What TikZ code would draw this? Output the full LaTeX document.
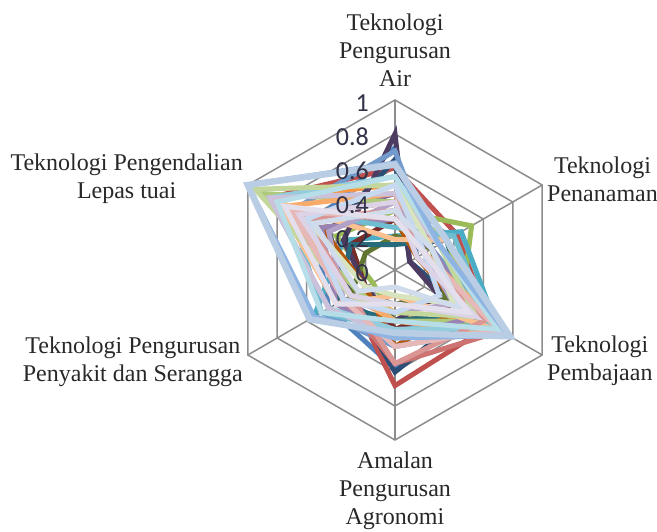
\documentclass[tikz,border=0pt]{standalone}
\usepackage{fontspec}
\setmainfont{Liberation Serif}
\newfontfamily\tickfont{Carlito}
\usepackage{tikz}
\usetikzlibrary{positioning}
\usetikzlibrary{calc}
\definecolor{gridgray}{RGB}{140,140,140}
\definecolor{ticktext}{RGB}{50,50,72}
\definecolor{labeltext}{RGB}{40,40,40}
\tikzstyle{ring} = [draw=gridgray, line width=1.5pt]
\tikzstyle{spoke} = [draw=gridgray, line width=1.5pt]
\tikzstyle{series} = [line width=5pt, miter limit=4]
\tikzstyle{topseries} = [line width=6.5pt, miter limit=4]
\tikzstyle{axislabel} = [align=center, inner sep=0pt, text=labeltext, font=\fontsize{24}{28}\selectfont]
\tikzstyle{tick} = [anchor=east, inner sep=0pt, text=ticktext, font=\tickfont\fontsize{26}{26}\selectfont]

\begin{document}
\begin{tikzpicture}[x=1pt,y=1pt]
    \useasboundingbox (-395,-261) rectangle (262,270);
    \def\R{170}

    % grid
    \foreach \lv in {0.2,0.4,...,1.0}
        \draw [ring] (90:\lv*\R) -- (30:\lv*\R) -- (-30:\lv*\R) -- (-90:\lv*\R)
            -- (-150:\lv*\R) -- (150:\lv*\R) -- cycle;
    \coordinate (center) at (0,0);
    \foreach \ang/\nm in {90/air,30/tanam,-30/baja,-90/agro,-150/penyakit,150/lepas}
        \coordinate (\nm) at (\ang:\R);
    \foreach \nm in {air,tanam,baja,agro,penyakit,lepas}
        \draw [spoke] (center) -- (\nm);

    % series: air / tanam / baja / agro / penyakit / lepas
    \foreach \col/\a/\b/\c/\d/\e/\f in {
        {4F81BD}/0.72/0.15/0.55/0.58/0.45/0.55,
        {C0504D}/0.60/0.42/0.65/0.68/0.30/0.85,
        {9BBB59}/0.35/0.52/0.45/0.30/0.15/0.40,
        {8064A2}/0.45/0.20/0.50/0.35/0.35/0.60,
        {4BACC6}/0.20/0.45/0.70/0.40/0.55/0.35,
        {F79646}/0.50/0.30/0.60/0.25/0.25/0.85,
        {2C4D75}/0.65/0.10/0.50/0.60/0.30/0.45,
        {772C2A}/0.30/0.20/0.40/0.35/0.20/0.30,
        {5F7530}/0.20/0.25/0.35/0.20/0.30/0.20,
        {4D3B62}/0.80/0.10/0.30/0.30/0.20/0.35,
        {276A7C}/0.15/0.35/0.50/0.30/0.40/0.30,
        {B65708}/0.30/0.15/0.45/0.45/0.20/0.50,
        {729ACA}/0.70/0.25/0.70/0.45/0.50/0.70,
        {CD7371}/0.40/0.30/0.72/0.55/0.35/0.65,
        {AFC97A}/0.40/0.35/0.60/0.30/0.25/0.90,
        {9983B5}/0.30/0.25/0.55/0.40/0.40/0.50,
        {6FBDD1}/0.25/0.40/0.65/0.35/0.50/0.70,
        {F9AB6B}/0.45/0.20/0.75/0.30/0.30/0.75,
        {FAC090}/0.18/0.35/0.72/0.15/0.40/0.80,
        {B3A2C7}/0.40/0.20/0.40/0.25/0.35/0.45,
        {93CDDD}/0.55/0.30/0.68/0.35/0.45/0.85,
        {D99694}/0.35/0.20/0.60/0.55/0.30/0.60,
        {C3D69B}/0.50/0.30/0.55/0.25/0.30/0.95,
        {CCC1DA}/0.45/0.30/0.75/0.40/0.45/0.85,
        {E6B9B8}/0.30/0.20/0.70/0.45/0.35/0.70,
        {D7E4BD}/0.50/0.25/0.40/0.15/0.20/0.60,
        {B7DEE8}/0.55/0.30/0.70/0.30/0.50/0.80,
        {C6D9F1}/0.50/0.20/0.30/0.25/0.35/0.60,
        {DCD3E6}/0.40/0.15/0.55/0.20/0.30/0.65,
        {D0DCEB}/0.35/0.25/0.45/0.10/0.25/0.55,
        {E4DFEC}/0.30/0.20/0.50/0.20/0.40/0.75,
        {8EB4E3}/0.63/0.30/0.77/0.40/0.55/1.00}
    {
        \definecolor{sercol}{HTML}{\col}
        \draw [series, sercol] (90:\a*\R) -- (30:\b*\R) -- (-30:\c*\R) -- (-90:\d*\R)
            -- (-150:\e*\R) -- (150:\f*\R) -- cycle;
    }
    \definecolor{lastcol}{HTML}{B9CDE5}
    \draw [topseries, lastcol] (90:0.62*\R) -- (30:0.35*\R) -- (-30:0.78*\R) -- (-90:0.37*\R)
        -- (-150:0.58*\R) -- (150:1.0*\R) -- cycle;

    % tick labels
    \foreach \lv/\txt in {0/0,1/0.2,2/0.4,3/0.6,4/0.8,5/1}
        \node [tick] (tick\lv) at (-26,\lv*34-3) {\txt};

    % axis labels
    \node [axislabel] (lblair) at (0,220) {Teknologi\\Pengurusan\\Air};
    \node [axislabel, anchor=west] (lbltanam) at (152,91) {Teknologi\\Penanaman};
    \node [axislabel, anchor=west] (lblbaja) at (152,-91) {Teknologi\\Pembajaan};
    \node [axislabel] (lblagro) at (0,-221) {Amalan\\Pengurusan\\Agronomi};
    \node [axislabel, anchor=east] (lblpenyakit) at (-152,-92) {Teknologi Pengurusan\\Penyakit dan Serangga};
    \node [axislabel, anchor=east] (lbllepas) at (-152,91) {Teknologi Pengendalian\\Lepas tuai};
\end{tikzpicture}
\end{document}
